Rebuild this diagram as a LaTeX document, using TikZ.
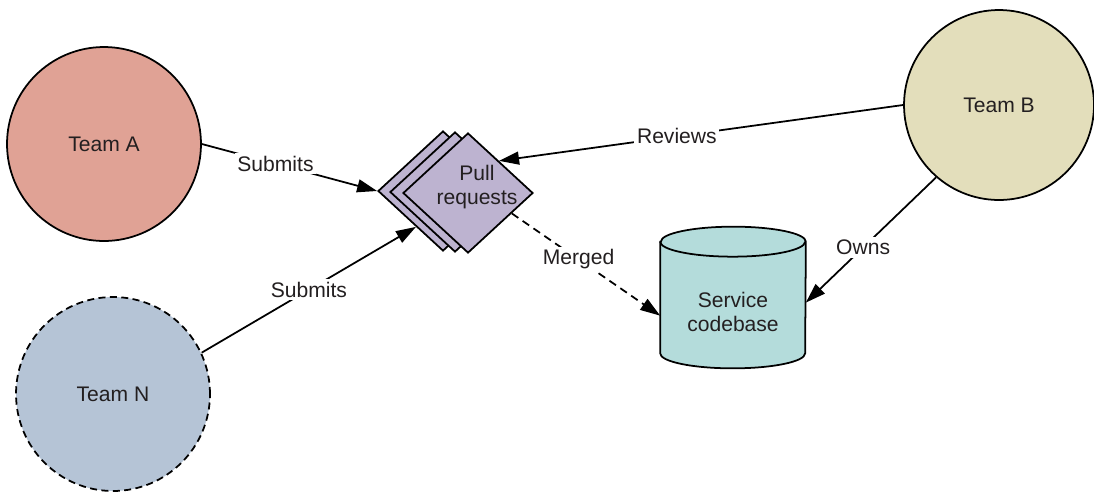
\documentclass[tikz,border=0pt]{standalone}
\usepackage{fontspec}
\setmainfont{Liberation Sans}
\usetikzlibrary{arrows.meta, positioning, shapes.geometric}

\definecolor{teamafill}{HTML}{E0A295}
\definecolor{teamnfill}{HTML}{B5C4D6}
\definecolor{teambfill}{HTML}{E3DEBB}
\definecolor{prfill}{HTML}{BDB3D0}
\definecolor{repofill}{HTML}{B4DCDB}
\definecolor{txtgray}{HTML}{231F20}

\begin{document}
\begin{tikzpicture}[
    x=0.02cm, y=-0.02cm,
    font=\fontsize{12}{14}\selectfont,
    team/.style={circle, draw=black, line width=1pt, minimum size=3.88cm, text=txtgray},
    prbox/.style={diamond, draw=black, line width=1pt, fill=prfill, minimum width=2.6cm, minimum height=2.4cm, inner sep=0pt},
    repo/.style={draw=black, line width=1pt, fill=repofill},
    link/.style={draw=black, line width=1pt, -{Triangle[length=4mm, width=2.6mm]}},
    lbl/.style={fill=white, inner sep=1.5pt, text=txtgray}
]
\useasboundingbox (0,0) rectangle (1094,491);

% Teams
\node[team, fill=teamafill] (ta) at (104,144) {Team A};
\node[team, fill=teamnfill, dashed, dash pattern=on 4pt off 2.5pt] (tn) at (113,394) {Team N};
\node[team, fill=teambfill, minimum size=3.8cm] (tb) at (999,105) {Team B};

% Pull requests (stacked)
\node[prbox] (pr3) at (443,191) {};
\node[prbox] (pr2) at (455,192) {};
\node[prbox] (pr) at (468,193) {};
\node[align=center, text=txtgray] (prtxt) at (477,187) {Pull\\requests};

% Codebase (cylinder)
\node[minimum width=2.9cm, minimum height=2.82cm, inner sep=0pt] (cb) at (733,297.5) {};
\filldraw[repo] ([yshift=-0.3cm]cb.north west) -- ([yshift=0.3cm]cb.south west)
    arc[start angle=180, end angle=360, x radius=1.45cm, y radius=0.3cm]
    -- ([yshift=-0.3cm]cb.north east)
    arc[start angle=0, end angle=180, x radius=1.45cm, y radius=0.3cm] -- cycle;
\draw[repo, fill=none] ([yshift=-0.3cm]cb.north west)
    arc[start angle=180, end angle=360, x radius=1.45cm, y radius=0.3cm];
\node[align=center, text=txtgray] (cbtxt) at ([yshift=-0.29cm]cb.center) {Service\\codebase};

% Connectors
\draw[link] (ta.east) -- (pr3.west) node[lbl, pos=0.42] {Submits};
\draw[link] (tn.25) -- (pr3.233) node[lbl, midway] {Submits};
\draw[link] (tb.180) -- (pr.46) node[lbl, pos=0.56] {Reviews};
\draw[link, dash pattern=on 4.5pt off 3pt] (pr.335) -- (cb.194) node[lbl, pos=0.45] {Merged};
\draw[link] (tb.229) -- (cb.356) node[lbl, pos=0.56] {Owns};

\end{tikzpicture}
\end{document}
